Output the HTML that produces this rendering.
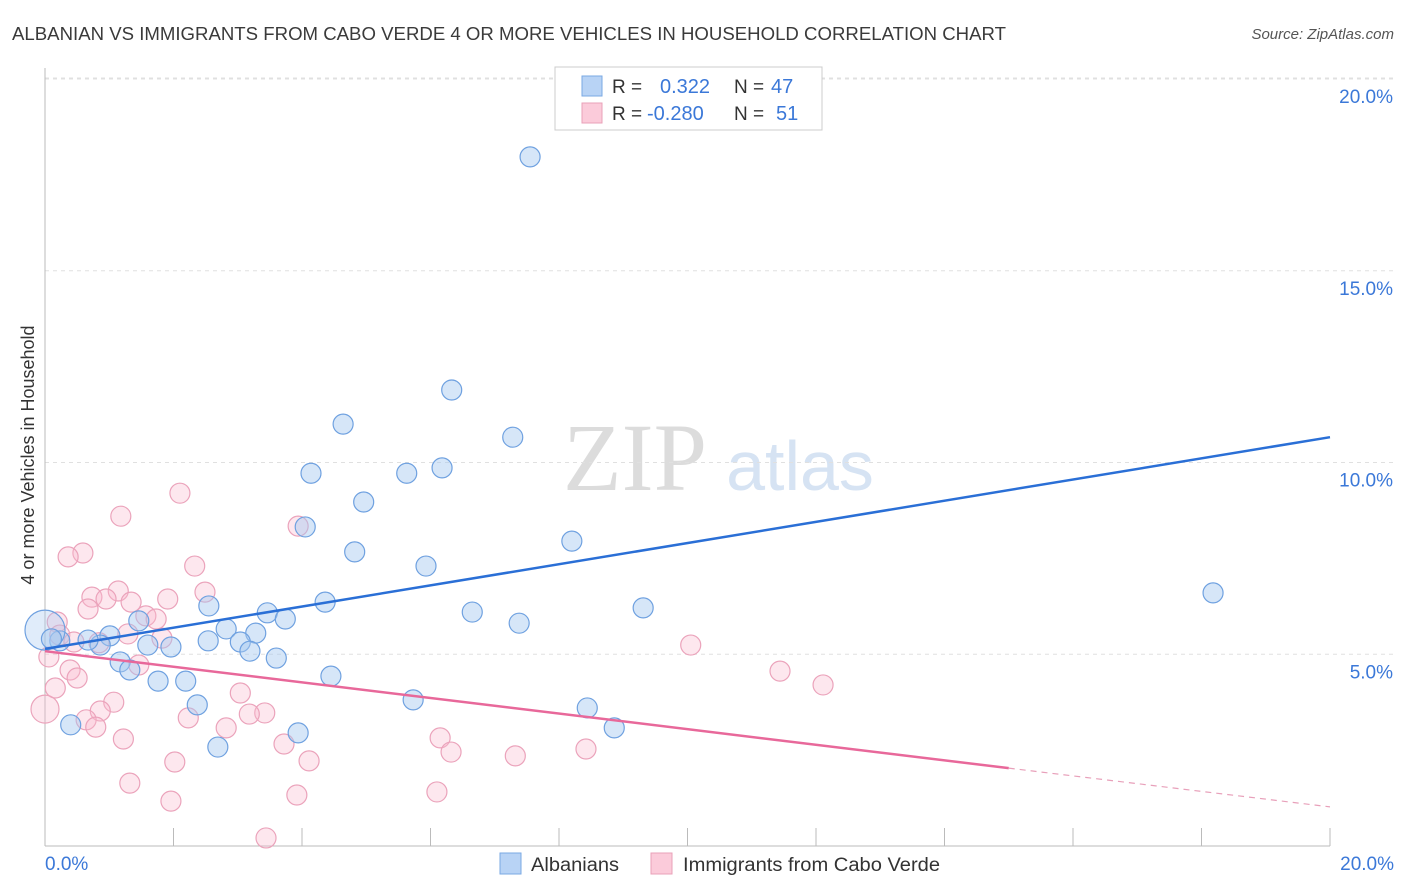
<!DOCTYPE html>
<html><head><meta charset="utf-8"><style>
body{margin:0;background:#fff;font-family:"Liberation Sans",sans-serif;}
svg{display:block}
</style></head><body>
<svg id="chart" width="1406" height="892">
<text x="12" y="40" font-size="18" fill="#3a3a3a" textLength="994" lengthAdjust="spacingAndGlyphs">ALBANIAN VS IMMIGRANTS FROM CABO VERDE 4 OR MORE VEHICLES IN HOUSEHOLD CORRELATION CHART</text>
<text x="1394" y="39" font-size="15" fill="#555" font-style="italic" text-anchor="end">Source: ZipAtlas.com</text>
<text x="635" y="490" font-size="96" fill="#dcdcdc" font-family="Liberation Serif,serif" text-anchor="middle">ZIP</text>
<text x="800" y="490" font-size="70" fill="#d6e3f3" text-anchor="middle">atlas</text>
<text transform="translate(34,455) rotate(-90)" font-size="18" fill="#333" text-anchor="middle">4 or more Vehicles in Household</text>
<g id="grid"></g><g id="axes"></g><g id="pts"></g><g id="trend"></g>
<g>
<rect x="555" y="67" width="267" height="63" fill="#fff" stroke="#ccc"/>
<rect x="582" y="76" width="20" height="20" fill="#b8d3f5" stroke="#7aa8e3"/>
<rect x="582" y="103" width="20" height="20" fill="#fbcbda" stroke="#eaa0b8"/>
<text x="612" y="93" font-size="19" fill="#333">R =</text><text x="660" y="93" font-size="20" fill="#3b78d8">0.322</text>
<text x="734" y="93" font-size="19" fill="#333">N =</text><text x="771" y="93" font-size="20" fill="#3b78d8">47</text>
<text x="612" y="120" font-size="19" fill="#333">R =</text><text x="647" y="120" font-size="20" fill="#3b78d8">-0.280</text>
<text x="734" y="120" font-size="19" fill="#333">N =</text><text x="776" y="120" font-size="20" fill="#3b78d8">51</text>
</g>
<g>
<rect x="500" y="853" width="21" height="21" fill="#b8d3f5" stroke="#7aa8e3"/>
<text x="531" y="871" font-size="19" fill="#333" textLength="88" lengthAdjust="spacingAndGlyphs">Albanians</text>
<rect x="651" y="853" width="21" height="21" fill="#fbcbda" stroke="#eaa0b8"/>
<text x="683" y="871" font-size="19" fill="#333" textLength="257" lengthAdjust="spacingAndGlyphs">Immigrants from Cabo Verde</text>
</g>
</svg>
<script>
const yTicks=[5,10,15,20];
const yTickLabels=["5.0%","10.0%","15.0%","20.0%"];
const xEndLabels=["0.0%","20.0%"];
const blueX=[7.55,6.33,4.64,7.28,4.14,5.63,6.18,4.96,4.05,4.82,5.93,8.20,18.18,9.31,6.65,7.38,4.36,2.55,3.46,3.74,1.46,2.82,3.28,3.04,2.54,1.96,1.60,1.01,0.86,0.67,0.23,3.19,3.60,1.17,1.32,4.45,1.76,2.19,2.37,5.73,8.44,3.94,8.86,0.40,2.69,0.0,0.10];
const blueY=[17.97,11.89,11.00,10.66,9.72,9.72,9.86,8.97,8.32,7.67,7.30,7.95,6.60,6.21,6.10,5.81,6.36,6.26,6.08,5.92,5.87,5.66,5.55,5.32,5.35,5.19,5.24,5.48,5.24,5.37,5.35,5.08,4.90,4.80,4.59,4.43,4.30,4.30,3.68,3.81,3.60,2.95,3.08,3.16,2.58,5.63,5.40];
const pinkX=[2.10,1.18,3.94,0.59,0.36,2.33,1.14,2.49,0.73,0.95,1.91,1.34,0.67,1.57,1.73,0.19,0.23,1.29,1.82,0.45,0.84,0.06,1.46,0.39,0.50,10.05,11.44,12.11,0.16,3.04,0.0,1.07,0.86,0.64,2.23,3.42,3.18,2.82,0.79,1.22,6.15,3.72,6.32,8.42,7.32,4.11,2.02,1.32,3.92,6.10,1.96,3.44];
const pinkY=[9.20,8.60,8.34,7.64,7.54,7.30,6.65,6.62,6.49,6.44,6.44,6.36,6.18,6.00,5.92,5.84,5.50,5.53,5.42,5.32,5.30,4.93,4.72,4.59,4.38,5.24,4.56,4.20,4.12,3.99,3.57,3.75,3.52,3.29,3.34,3.47,3.44,3.08,3.10,2.79,2.82,2.66,2.45,2.53,2.35,2.22,2.19,1.64,1.33,1.41,1.17,0.21];
const blueSize=[];blueSize[45]=20;
const pinkSize=[];pinkSize[30]=14;
const blueTrendX=[0,20], blueTrendY=[5.14,10.66];
const pinkTrendX=[0,15,20], pinkTrendY=[5.08,2.03,1.02];
const X=v=>45+v*64.25, Y=v=>846-v*38.35;
const NS="http://www.w3.org/2000/svg";
function mk(t,a,p){const e=document.createElementNS(NS,t);for(const k in a)e.setAttribute(k,a[k]);p.appendChild(e);return e;}
const grid=document.getElementById('grid'),axes=document.getElementById('axes'),pts=document.getElementById('pts'),tr=document.getElementById('trend');
mk('line',{x1:45,x2:1394,y1:Y(20)-1,y2:Y(20)-1,stroke:'#e0e0e0','stroke-dasharray':'4,4'},grid);
yTicks.forEach((t,i)=>{
 const l=mk('line',{x1:45,x2:1394,y1:Y(t),y2:Y(t),stroke:'#e0e0e0','stroke-dasharray':'4,4'},grid);
 
 
 const tx=mk('text',{x:1393,y:Y(t)+24,'font-size':19,fill:'#3b78d8','text-anchor':'end'},axes);
 tx.textContent=yTickLabels[i];
 
 
});
mk('line',{x1:45,x2:45,y1:68,y2:846,stroke:'#bbb'},axes);
mk('line',{x1:45,x2:1330,y1:846,y2:846,stroke:'#bbb'},axes);
for(let i=1;i<=10;i++){const t=mk('line',{x1:X(i*2),x2:X(i*2),y1:828,y2:846,stroke:'#bbb'},axes);
 
 }
const xl0=mk('text',{x:45,y:870,'font-size':19,fill:'#3b78d8'},axes);xl0.textContent=xEndLabels[0];


const xl1=mk('text',{x:1394,y:870,'font-size':19,fill:'#3b78d8','text-anchor':'end'},axes);xl1.textContent=xEndLabels[1];


pinkX.forEach((v,i)=>{const c=mk('circle',{cx:X(v),cy:Y(pinkY[i]),r:pinkSize[i]||10,fill:'rgba(248,185,205,0.35)',stroke:'#eba3bb','stroke-width':1.2},pts);
 
 });
blueX.forEach((v,i)=>{const c=mk('circle',{cx:X(v),cy:Y(blueY[i]),r:blueSize[i]||10,fill:blueSize[i]?'rgba(165,200,240,0.35)':'rgba(165,200,240,0.45)',stroke:'#6fa1e0','stroke-width':1.2},pts);
 
 });
const bl=mk('line',{x1:X(blueTrendX[0]),y1:Y(blueTrendY[0]),x2:X(blueTrendX[1]),y2:Y(blueTrendY[1]),stroke:'#2a6fd6','stroke-width':2.5},tr);


const pl=mk('line',{x1:X(pinkTrendX[0]),y1:Y(pinkTrendY[0]),x2:X(pinkTrendX[1]),y2:Y(pinkTrendY[1]),stroke:'#e8689a','stroke-width':2.5},tr);


const pd=mk('line',{x1:X(pinkTrendX[1]),y1:Y(pinkTrendY[1]),x2:X(pinkTrendX[2]),y2:Y(pinkTrendY[2]),stroke:'#e8a0ba','stroke-width':1.2,'stroke-dasharray':'6,5'},tr);


</script>
</body></html>
